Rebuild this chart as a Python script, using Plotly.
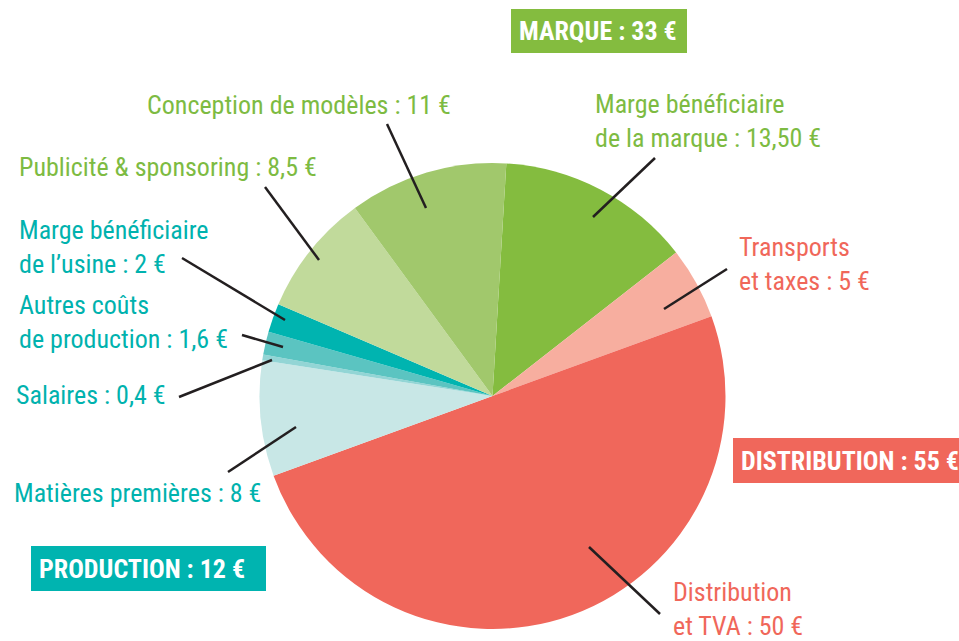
import plotly.graph_objects as go

W, H = 959, 641

# ---- data ----
categories = [
    "Marge bénéficiaire de la marque", "Transports et taxes", "Distribution et TVA",
    "Matières premières", "Salaires", "Autres coûts de production",
    "Marge bénéficiaire de l'usine", "Publicité & sponsoring", "Conception de modèles",
]
values = [13.5, 5, 50, 8, 0.4, 1.6, 2, 8.5, 11]
slice_colors = ["#84BC3F", "#F7AE9F", "#F0675B", "#C8E7E6", "#93D5D5",
                "#5BC4C1", "#00B4B0", "#C1DA9B", "#A1C86C"]

label_texts = [
    "Marge bénéficiaire<br>de la marque : 13,50 €",
    "Transports<br>et taxes : 5 €",
    "Distribution<br>et TVA : 50 €",
    "Matières premières : 8 €",
    "Salaires : 0,4 €",
    "Autres coûts<br>de production : 1,6 €",
    "Marge bénéficiaire<br>de l’usine : 2 €",
    "Publicité & sponsoring : 8,5 €",
    "Conception de modèles : 11 €",
]
group_texts = ["MARQUE : 33 €", "DISTRIBUTION : 55 €", "PRODUCTION : 12 €"]

GREEN_T, RED_T, TEAL_T = "#7DBB42", "#F0675A", "#00B2AE"
label_colors = [GREEN_T, RED_T, RED_T, TEAL_T, TEAL_T, TEAL_T, TEAL_T, GREEN_T, GREEN_T]

# layout (pixel) positions: left x, center y of text block
label_pos = [(593, 121), (737, 264), (671, 609), (12, 493), (14, 395),
             (17, 322), (17, 247), (17, 167), (145, 105)]
# leader lines (x0,y0,x1,y1) in pixels
leader = [(655, 158, 593, 217), (727, 269, 664, 309), (589, 547, 660, 614),
          (228, 472, 296, 427), (179, 397, 272, 360), (242, 335, 283, 347),
          (182, 258, 285, 320), (265, 187, 319, 260), (387, 124, 426, 208)]
group_boxes = [(511, 9, 687, 53, "#84BC3F"), (733, 438, 959, 483, "#F0675B"),
               (31, 546, 266, 591, "#00B4B0")]

FONT = "Roboto Condensed, Liberation Sans Narrow, sans-serif"

cx, cy, r = 492.5, 396, 233


def px(x):
    return x / W


def py(y):
    return 1 - y / H


fig = go.Figure(go.Pie(
    labels=categories, values=values, sort=False, direction="clockwise",
    rotation=3.4, textinfo="none", hoverinfo="label+value",
    marker=dict(colors=slice_colors, line=dict(width=0)),
    domain=dict(x=[px(cx - r), px(cx + r)], y=[py(cy + r), py(cy - r)]),
    showlegend=False,
))

shapes = []
for (x0, y0, x1, y1) in leader:
    shapes.append(dict(type="line", xref="paper", yref="paper",
                       x0=px(x0), y0=py(y0), x1=px(x1), y1=py(y1),
                       line=dict(color="#231F20", width=2.5)))
for (x0, y0, x1, y1, c) in group_boxes:
    shapes.append(dict(type="rect", xref="paper", yref="paper",
                       x0=px(x0), y0=py(y0), x1=px(x1), y1=py(y1),
                       fillcolor=c, line=dict(width=0), layer="below"))

annotations = []
for t, c, (x, y) in zip(label_texts, label_colors, label_pos):
    annotations.append(dict(text=t, x=px(x), y=py(y), xref="paper", yref="paper",
                            xanchor="left", yanchor="middle", align="left",
                            showarrow=False, font=dict(family=FONT, size=26, color=c)))
for t, (x0, y0, x1, y1, c) in zip(group_texts, group_boxes):
    annotations.append(dict(text="<b>" + t + "</b>", x=px(x0 + 6), y=py((y0 + y1) / 2),
                            xref="paper", yref="paper", xanchor="left", yanchor="middle",
                            showarrow=False, font=dict(family=FONT, size=26, color="white")))

fig.update_layout(width=W, height=H, margin=dict(l=0, r=0, t=0, b=0),
                  paper_bgcolor="white", plot_bgcolor="white",
                  shapes=shapes, annotations=annotations)

fig.write_html("out.html")
